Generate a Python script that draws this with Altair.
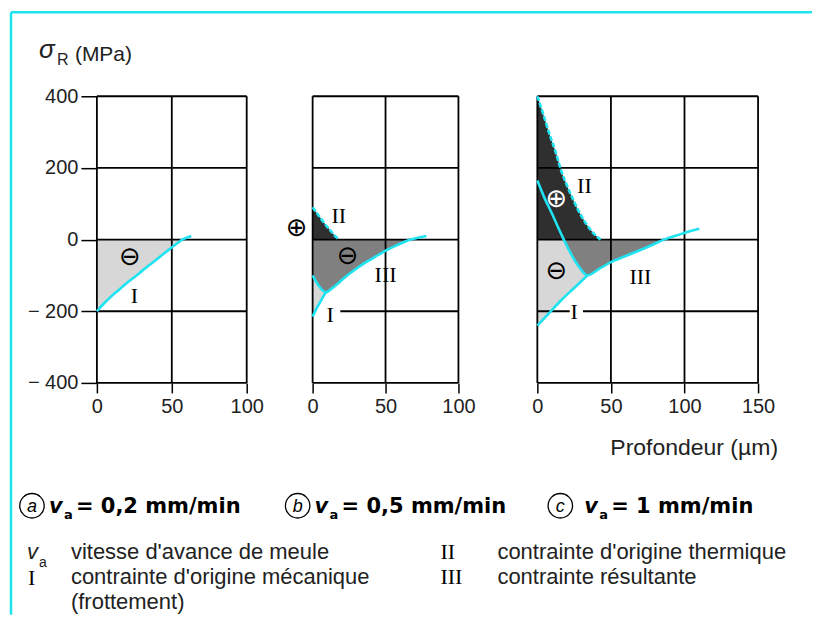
import altair as alt
import pandas as pd

# ---------------- data ----------------
# panel a : v_a = 0.2 mm/min
a_I_x = [0, 5, 10, 15, 20, 25, 30, 35, 40, 45, 50, 55, 57, 60, 63]
a_I_y = [-200, -177, -157, -139, -121, -105, -88, -71, -55, -38, -22, -6, 0, 5, 10]

# panel b : v_a = 0.5 mm/min
b_II_x = [0, 4, 8, 12, 15, 18]
b_II_y = [90, 68, 46, 26, 12, 0]
b_I_x = [0, 3, 6, 9]
b_I_y = [-215, -190, -168, -147]
b_III_x = [0, 4, 9, 13, 17, 22, 28, 34, 40, 45, 50, 56, 62, 67, 72, 78]
b_III_y = [-100, -128, -147, -137, -124, -106, -87, -70, -55, -43, -31, -19, -8, 0, 5, 10]

# panel c : v_a = 1 mm/min
c_II_x = [0, 4, 8, 12, 16, 20, 24, 28, 32, 36, 40, 43]
c_II_y = [400, 350, 297, 250, 195, 152, 115, 80, 52, 28, 10, 0]
c_I_x = [0, 8, 16, 25, 34]
c_I_y = [-240, -205, -170, -135, -100]
c_III_x = [0, 5, 10, 14, 18, 22, 26, 30, 34, 42, 50, 60, 70, 78, 86, 95, 102, 110]
c_III_y = [165, 115, 72, 35, 0, -33, -62, -85, -100, -82, -63, -46, -29, -15, 0, 12, 21, 30]

y_ticks = [-400, -200, 0, 200, 400]
a_x_ticks = [0, 50, 100]
b_x_ticks = [0, 50, 100]
c_x_ticks = [0, 50, 100, 150]

caption_speeds = ["= 0,2 mm/min", "= 0,5 mm/min", "= 1 mm/min"]
caption_letters = ["a", "b", "c"]
key_numerals = ["I", "II", "III"]
key_texts = ["vitesse d'avance de meule", "contrainte d'origine mécanique", "(frottement)",
             "contrainte d'origine thermique", "contrainte résultante"]

# ---------------- style ----------------
FONT = "Liberation Sans, Arial, Helvetica, sans-serif"
BOLD = "DejaVu Sans, Liberation Sans, sans-serif"
SERIF = "Liberation Serif, Times New Roman, serif"
SYM = "DejaVu Sans"
CYAN = "#1fe3f0"
LIGHT = "#d7d7d7"
MID = "#808080"
DARK = "#2f2f2f"
TXT = "#222222"
KEY_SIZE = 22


def curve(xs, ys, lo=None, hi=None):
    df = pd.DataFrame({"x": xs, "y": ys})
    if lo is not None:
        df = df[(df.x >= lo) & (df.x <= hi)]
    return df


def panel(width, xdom, xrange, xticks, fills, lines, hsegs, vsegs, labels, show_y, extra=()):
    xs = alt.Scale(domain=xdom, range=xrange, nice=False, zero=False)
    ys = alt.Scale(domain=[-400, 400], nice=False)
    xaxis = alt.Axis(values=xticks, tickSize=10, tickColor="black", tickWidth=1.5,
                     domain=False, grid=False, labelFont=FONT, labelFontSize=20,
                     labelColor=TXT, labelPadding=4, labelFlush=False, labelOverlap=False,
                     title=None, format="d")
    if show_y:
        yaxis = alt.Axis(values=y_ticks, tickSize=16, tickColor="black", tickWidth=1.5,
                         domain=False, grid=False, labelFont=FONT, labelFontSize=20,
                         labelColor=TXT, labelPadding=3, title=None,
                         labelExpr="datum.value < 0 ? '\u2212 ' + format(-datum.value, 'd') : datum.label")
    else:
        yaxis = None
    X = lambda f: alt.X(f, scale=xs, axis=xaxis)
    Y = lambda f: alt.Y(f, scale=ys, axis=yaxis)
    layers = []
    for df, col in fills:
        layers.append(alt.Chart(df).mark_area(color=col, opacity=1, interpolate="monotone").encode(
            x=X("x:Q"), y=Y("y:Q"), y2=alt.datum(0)))
    hdf = pd.DataFrame(hsegs, columns=["y", "x1", "x2"])
    vdf = pd.DataFrame(vsegs, columns=["x", "y1", "y2"])
    layers.append(alt.Chart(hdf).mark_rule(color="black", strokeWidth=1.8).encode(
        x=X("x1:Q"), x2="x2:Q", y=Y("y:Q")))
    layers.append(alt.Chart(vdf).mark_rule(color="black", strokeWidth=1.8).encode(
        x=X("x:Q"), y=Y("y1:Q"), y2="y2:Q"))
    for df, dash in lines:
        m = dict(color=CYAN, strokeWidth=2.6, interpolate="monotone")
        if dash:
            m["strokeDash"] = [5, 2]
        layers.append(alt.Chart(df).mark_line(**m).encode(x=X("x:Q"), y=Y("y:Q")))
    for df, kind in labels:
        if kind == "serif":
            mk = dict(font=SERIF, fontSize=22, color="black")
        elif kind == "sym":
            mk = dict(font=SYM, fontSize=26, color="black")
        else:
            mk = dict(font=SYM, fontSize=26, color="white")
        layers.append(alt.Chart(df).mark_text(clip=False, **mk).encode(
            x=X("x:Q"), y=Y("y:Q"), text="t:N"))
    layers.extend(extra)
    return alt.layer(*layers).properties(width=width, height=287)


def lab(rows):
    return pd.DataFrame(rows, columns=["x", "y", "t"])


def ptext(s, px, py, **kw):
    base = dict(align="left", baseline="alphabetic", font=FONT, fontSize=21, color=TXT)
    base.update(kw)
    return alt.Chart(pd.DataFrame({"t": [s]})).mark_text(**base).encode(
        text="t:N", x=alt.value(px), y=alt.value(py))


def pcircle(px, py):
    return alt.Chart(pd.DataFrame({"t": [0]})).mark_point(
        shape="circle", size=600, filled=False, color="black", strokeWidth=1.3, opacity=1).encode(
        x=alt.value(px), y=alt.value(py))


# --------- pixel-positioned annotations (relative to panel a plot area) ---------
annot = []
# frame
annot.append(alt.Chart(pd.DataFrame({"t": [0]})).mark_rule(color=CYAN, strokeWidth=2.5).encode(
    x=alt.value(-86), y=alt.value(-84), y2=alt.value(519)))
annot.append(alt.Chart(pd.DataFrame({"t": [0]})).mark_rule(color=CYAN, strokeWidth=2.5).encode(
    x=alt.value(-86), x2=alt.value(716), y=alt.value(-84)))
# y title
annot.append(ptext("\u03c3", -58, -38, fontSize=26, fontStyle="italic"))
annot.append(ptext("R", -40, -31, fontSize=16))
annot.append(ptext("(MPa)", -22, -35, fontSize=21))
# speed captions
cap_pos = [(-65, -48, -33, -21), (201, 218, 233, 245), (464, 488, 503, 515)]
for (cx, vx, ax, tx), letter, sp in zip(cap_pos, caption_letters, caption_speeds):
    annot.append(pcircle(cx, 410))
    annot.append(ptext(letter, cx, 416, align="center", fontSize=18, fontStyle="italic", color="black"))
    annot.append(ptext("v", vx, 417, font=BOLD, fontSize=21, fontWeight="bold", fontStyle="italic",
                       color="black"))
    annot.append(ptext("a", ax, 423, font=BOLD, fontSize=13, fontWeight="bold", color="black"))
    annot.append(ptext(sp, tx, 417, font=BOLD, fontSize=21, fontWeight="bold", color="black"))
# key
annot.append(ptext("v", -70, 463, fontSize=22, fontStyle="italic"))
annot.append(ptext("a", -58, 471, fontSize=14))
annot.append(ptext(key_texts[0], -26, 463, fontSize=KEY_SIZE))
annot.append(ptext(key_numerals[0], -69, 489, font=SERIF, fontSize=22, color="black"))
annot.append(ptext(key_texts[1], -26, 488, fontSize=KEY_SIZE))
annot.append(ptext(key_texts[2], -26, 513, fontSize=KEY_SIZE))
annot.append(ptext(key_numerals[1], 344, 463, font=SERIF, fontSize=22, color="black"))
annot.append(ptext(key_texts[3], 401, 463, fontSize=KEY_SIZE))
annot.append(ptext(key_numerals[2], 344, 488, font=SERIF, fontSize=22, color="black"))
annot.append(ptext(key_texts[4], 401, 488, fontSize=KEY_SIZE))

# ---------------- panels ----------------
pa = panel(
    150, [0, 100], [0, 150], a_x_ticks,
    fills=[(curve(a_I_x, a_I_y, 0, 57), LIGHT)],
    lines=[(curve(a_I_x, a_I_y), False)],
    hsegs=[(400, 0, 100), (200, 0, 100), (0, 0, 100), (-200, 0, 100), (-400, 0, 100)],
    vsegs=[(0, -400, 400), (50, -400, 400), (100, -400, 400)],
    labels=[(lab([(22, -50, "\u2296")]), "sym"), (lab([(25, -158, "I")]), "serif")],
    show_y=True, extra=annot)

pb = panel(
    159, [0, 100], [0, 146], b_x_ticks,
    fills=[(curve(b_I_x, b_I_y), LIGHT), (curve(b_III_x, b_III_y, 0, 67), MID),
           (curve(b_II_x, b_II_y), DARK)],
    lines=[(curve(b_II_x, b_II_y), True), (curve(b_III_x, b_III_y), False),
           (curve(b_I_x, b_I_y), False)],
    hsegs=[(400, 0, 100), (200, 0, 100), (0, 0, 100), (-200, 19, 100), (-400, 0, 100)],
    vsegs=[(0, -400, 400), (50, -400, 400), (100, -400, 400)],
    labels=[(lab([(-11, 33, "\u2295"), (24, -47, "\u2296")]), "sym"),
            (lab([(18, 66, "II"), (50, -100, "III"), (12, -211, "I")]), "serif")],
    show_y=False)

pc = panel(
    221, [0, 150], [0, 221], c_x_ticks,
    fills=[(curve(c_I_x, c_I_y), LIGHT), (curve(c_III_x, c_III_y, 18, 86), MID),
           (curve(c_II_x, c_II_y), DARK)],
    lines=[(curve(c_II_x, c_II_y), True), (curve(c_III_x, c_III_y), False),
           (curve(c_I_x, c_I_y), False)],
    hsegs=[(400, 0, 150), (200, 0, 150), (0, 0, 150), (-200, 0, 22), (-200, 31, 150), (-400, 0, 150)],
    vsegs=[(0, -400, 400), (50, -400, 400), (100, -400, 400), (150, -400, 400)],
    labels=[(lab([(13, -89, "\u2296")]), "sym"), (lab([(13, 113, "\u2295")]), "white"),
            (lab([(32, 150, "II"), (70, -105, "III"), (25, -201, "I")]), "serif")],
    show_y=False,
    extra=[ptext("Profondeur (\u00b5m)", 241, 359, align="right", fontSize=23)])

chart = alt.hconcat(pa, pb, pc, spacing=66, bounds="flush").configure_view(
    stroke=None).properties(padding={"left": 1, "top": 2, "right": 0, "bottom": 0})

chart.save("out.html", embed_options={"renderer": "svg", "actions": False})
